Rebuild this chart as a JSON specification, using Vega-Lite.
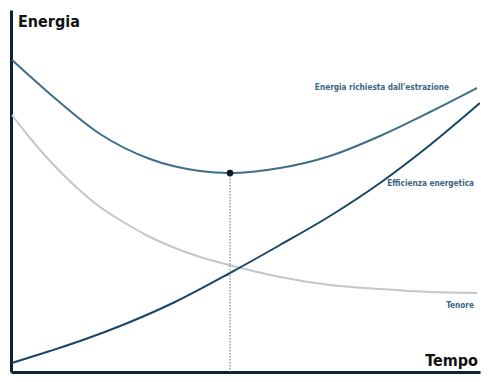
{
  "$schema": "https://vega.github.io/schema/vega-lite/v6.json",
  "width": 469,
  "height": 362,
  "autosize": {"type": "none"},
  "padding": {"left": 11, "top": 10, "right": 10, "bottom": 10},
  "background": "white",
  "config": {"view": {"stroke": null}},
  "datasets": {
    "curves": [
      {"serie": "Energia richiesta", "t": 1, "e": 312},
      {"serie": "Energia richiesta", "t": 39, "e": 278},
      {"serie": "Energia richiesta", "t": 89, "e": 238},
      {"serie": "Energia richiesta", "t": 139, "e": 213},
      {"serie": "Energia richiesta", "t": 189, "e": 201},
      {"serie": "Energia richiesta", "t": 219, "e": 199},
      {"serie": "Energia richiesta", "t": 269, "e": 204},
      {"serie": "Energia richiesta", "t": 319, "e": 216},
      {"serie": "Energia richiesta", "t": 369, "e": 236},
      {"serie": "Energia richiesta", "t": 419, "e": 260},
      {"serie": "Energia richiesta", "t": 466, "e": 284},
      {"serie": "Tenore", "t": 1, "e": 257},
      {"serie": "Tenore", "t": 19, "e": 234},
      {"serie": "Tenore", "t": 39, "e": 211},
      {"serie": "Tenore", "t": 64, "e": 186},
      {"serie": "Tenore", "t": 89, "e": 165},
      {"serie": "Tenore", "t": 114, "e": 149},
      {"serie": "Tenore", "t": 139, "e": 135},
      {"serie": "Tenore", "t": 164, "e": 124},
      {"serie": "Tenore", "t": 189, "e": 115},
      {"serie": "Tenore", "t": 222, "e": 106},
      {"serie": "Tenore", "t": 269, "e": 95},
      {"serie": "Tenore", "t": 319, "e": 87},
      {"serie": "Tenore", "t": 369, "e": 83},
      {"serie": "Tenore", "t": 419, "e": 80},
      {"serie": "Tenore", "t": 466, "e": 79},
      {"serie": "Efficienza", "t": 1, "e": 9},
      {"serie": "Efficienza", "t": 39, "e": 21},
      {"serie": "Efficienza", "t": 69, "e": 31},
      {"serie": "Efficienza", "t": 119, "e": 50},
      {"serie": "Efficienza", "t": 164, "e": 70},
      {"serie": "Efficienza", "t": 219, "e": 99},
      {"serie": "Efficienza", "t": 269, "e": 127},
      {"serie": "Efficienza", "t": 319, "e": 156},
      {"serie": "Efficienza", "t": 369, "e": 189},
      {"serie": "Efficienza", "t": 419, "e": 227},
      {"serie": "Efficienza", "t": 469, "e": 269}
    ],
    "optimum": [{"t": 219, "e": 199, "base": 0}],
    "labels": [
      {"text": "Energia richiesta dall'estrazione", "t": 438, "e": 282},
      {"text": "Efficienza energetica", "t": 463, "e": 186},
      {"text": "Tenore", "t": 463, "e": 64}
    ],
    "titleLeft": [{"text": "Energia", "t": 7, "e": 345}],
    "titleRight": [{"text": "Tempo", "t": 467, "e": 6}]
  },
  "layer": [
    {
      "data": {"name": "curves"},
      "mark": {"type": "line", "interpolate": "monotone", "strokeWidth": 2, "clip": true},
      "encoding": {
        "x": {"field": "t", "type": "quantitative", "scale": {"domain": [0, 469], "nice": false, "zero": false},
          "axis": {"title": null, "labels": false, "ticks": false, "grid": false, "domainColor": "#0d2335", "domainWidth": 3}},
        "y": {"field": "e", "type": "quantitative", "scale": {"domain": [0, 362], "nice": false, "zero": false},
          "axis": {"title": null, "labels": false, "ticks": false, "grid": false, "domainColor": "#0d2335", "domainWidth": 3}},
        "detail": {"field": "serie"},
        "color": {"field": "serie", "type": "nominal", "legend": null,
          "scale": {"domain": ["Energia richiesta", "Tenore", "Efficienza"], "range": ["#3f6d8b", "#c4c7c9", "#1b4566"]}}
      }
    },
    {
      "data": {"name": "optimum"},
      "mark": {"type": "rule", "color": "#5b7489", "strokeWidth": 1, "strokeDash": [1.5, 1.5]},
      "encoding": {
        "x": {"field": "t", "type": "quantitative"},
        "y": {"field": "e", "type": "quantitative"},
        "y2": {"field": "base"}
      }
    },
    {
      "data": {"name": "optimum"},
      "mark": {"type": "point", "filled": true, "color": "#0b1a26", "size": 45, "opacity": 1},
      "encoding": {
        "x": {"field": "t", "type": "quantitative"},
        "y": {"field": "e", "type": "quantitative"}
      }
    },
    {
      "data": {"name": "labels"},
      "mark": {"type": "text", "align": "right", "baseline": "alphabetic", "font": "DejaVu Sans Condensed, sans-serif", "fontWeight": "bold", "fontSize": 8.2, "color": "#3d6683"},
      "encoding": {
        "x": {"field": "t", "type": "quantitative"},
        "y": {"field": "e", "type": "quantitative"},
        "text": {"field": "text"}
      }
    },
    {
      "data": {"name": "titleLeft"},
      "mark": {"type": "text", "align": "left", "baseline": "alphabetic", "font": "DejaVu Sans Condensed, sans-serif", "fontWeight": "bold", "fontSize": 16, "color": "#111111"},
      "encoding": {
        "x": {"field": "t", "type": "quantitative"},
        "y": {"field": "e", "type": "quantitative"},
        "text": {"field": "text"}
      }
    },
    {
      "data": {"name": "titleRight"},
      "mark": {"type": "text", "align": "right", "baseline": "alphabetic", "font": "DejaVu Sans Condensed, sans-serif", "fontWeight": "bold", "fontSize": 16, "color": "#111111"},
      "encoding": {
        "x": {"field": "t", "type": "quantitative"},
        "y": {"field": "e", "type": "quantitative"},
        "text": {"field": "text"}
      }
    }
  ]
}
